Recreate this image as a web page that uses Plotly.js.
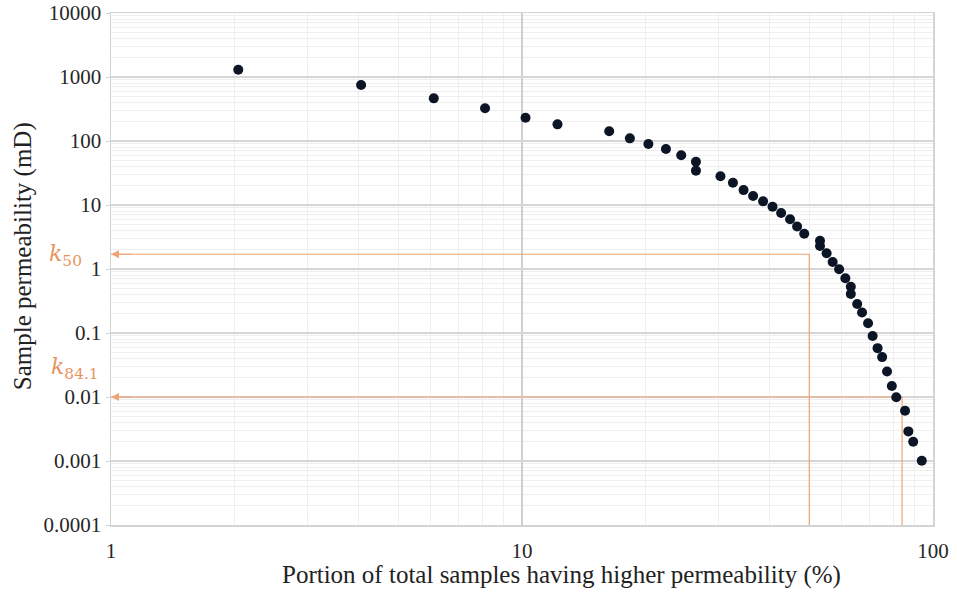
<!DOCTYPE html>
<html>
<head>
<meta charset="utf-8">
<script src="https://cdn.plot.ly/plotly-3.0.1.min.js"></script>
<style>
  html, body { margin: 0; padding: 0; background: #ffffff; }
  #chart { width: 957px; height: 594px; }
</style>
</head>
<body>
<div id="chart"></div>
<script>
// Cumulative permeability distribution: share of samples with higher permeability vs. sample permeability
const pctHigher = [2.04, 4.06, 6.1, 8.13, 10.2, 12.2, 16.3, 18.3, 20.3, 22.4, 24.4, 26.5, 26.5, 30.4,
  32.6, 34.6, 36.5, 38.6, 40.7, 42.7, 44.9, 46.7, 48.6, 53.1, 53.1, 55.1, 57.0, 59.1, 61.2, 63.1,
  63.1, 65.4, 67.2, 69.5, 71.3, 73.3, 75.2, 77.3, 79.4, 81.4, 85.5, 87.1, 89.5, 93.9];
const permeability = [1300, 750, 464, 324, 231, 182, 142, 110, 90, 75, 60, 47.5, 34.4, 28.1,
  22.3, 17.1, 13.8, 11.4, 9.4, 7.5, 6.0, 4.6, 3.56, 2.77, 2.29, 1.76, 1.29, 0.99, 0.716, 0.529,
  0.407, 0.284, 0.209, 0.142, 0.090, 0.058, 0.042, 0.025, 0.0149, 0.0099, 0.0061, 0.0029, 0.0020, 0.00101];

// Percentile read-offs: k50 and k84.1
const percentiles = [50, 84.1];
const kValues = [1.7, 0.01];
const kLabels = ['<i>k</i><sub>50</sub>', '<i>k</i><sub>84.1</sub>'];

const xTickVals = [1, 10, 100];
const xTickText = ['1', '10', '100'];
const yTickVals = [0.0001, 0.001, 0.01, 0.1, 1, 10, 100, 1000, 10000];
const yTickText = ['0.0001', '0.001', '0.01', '0.1', '1', '10', '100', '1000', '10000'];

const X_MIN = 1, Y_MIN = 0.0001;
const guideColor = '#efa476';
const labelColor = '#e8935f';
const serif = 'Liberation Serif, Times New Roman, serif';

const traces = [];
// Guide lines: horizontal from the axis to the percentile, vertical down to the axis
percentiles.forEach((p, i) => {
  traces.push({
    x: [X_MIN, p, p],
    y: [kValues[i], kValues[i], Y_MIN],
    mode: 'lines',
    type: 'scatter',
    line: { color: guideColor, width: 1.2 },
    hoverinfo: 'skip',
    showlegend: false,
    cliponaxis: false
  });
});
traces.push({
  x: pctHigher,
  y: permeability,
  mode: 'markers',
  type: 'scatter',
  marker: { color: '#0b1526', size: 10 },
  showlegend: false
});

const annotations = [];
// Arrowheads at the axis end of each horizontal guide
kValues.forEach((k) => {
  annotations.push({
    x: Math.log10(X_MIN), y: Math.log10(k), xref: 'x', yref: 'y',
    ax: 22, ay: 0, axref: 'pixel', ayref: 'pixel',
    showarrow: true, arrowhead: 2, arrowsize: 1.6, arrowwidth: 1,
    arrowcolor: guideColor, text: ''
  });
});
// k labels left of the y axis
const kLabelPos = [{ x: -0.055, y: 0.527 }, { x: -0.044, y: 0.306 }];
kLabels.forEach((t, i) => {
  annotations.push({
    text: t, xref: 'paper', yref: 'paper', x: kLabelPos[i].x, y: kLabelPos[i].y,
    xanchor: 'center', yanchor: 'middle', showarrow: false,
    font: { family: 'DejaVu Serif, serif', size: 22, color: labelColor }
  });
});
// Axis titles
annotations.push({
  text: 'Portion of total samples having higher permeability (%)',
  xref: 'paper', yref: 'paper', x: 0.548, y: -0.098, xanchor: 'center', yanchor: 'middle',
  showarrow: false, font: { family: serif, size: 25, color: '#222222' }
});
annotations.push({
  text: 'Sample permeability (mD)',
  xref: 'paper', yref: 'paper', x: -0.107, y: 0.525, xanchor: 'center', yanchor: 'middle',
  textangle: -90, showarrow: false, font: { family: serif, size: 25, color: '#222222' }
});

const layout = {
  width: 957, height: 594,
  margin: { l: 111, r: 24, t: 13, b: 69 },
  paper_bgcolor: '#ffffff', plot_bgcolor: '#ffffff',
  font: { family: serif, size: 21, color: '#262626' },
  showlegend: false,
  xaxis: {
    type: 'log', range: [0, 2],
    tickvals: xTickVals, ticktext: xTickText,
    showgrid: true, gridcolor: '#cfcfcf', gridwidth: 1.5,
    minor: { dtick: 'D1', showgrid: true, gridcolor: '#efefef', gridwidth: 1 },
    showline: true, linecolor: '#d4d4d4', linewidth: 1.5, mirror: true,
    ticks: '', zeroline: false, ticklabelstandoff: 6,
    tickfont: { family: serif, size: 21, color: '#262626' }
  },
  yaxis: {
    type: 'log', range: [-4, 4],
    tickvals: yTickVals, ticktext: yTickText,
    showgrid: true, gridcolor: '#d6d6d6', gridwidth: 2,
    minor: { dtick: 'D1', showgrid: true, gridcolor: '#efefef', gridwidth: 1 },
    showline: true, linecolor: '#d4d4d4', linewidth: 1.5, mirror: true,
    ticks: 'outside', ticklen: 4, tickcolor: '#d4d4d4',
    zeroline: false,
    tickfont: { family: serif, size: 21, color: '#262626' }
  },
  annotations: annotations
};

Plotly.newPlot('chart', traces, layout, { staticPlot: true, displayModeBar: false });
</script>
</body>
</html>
